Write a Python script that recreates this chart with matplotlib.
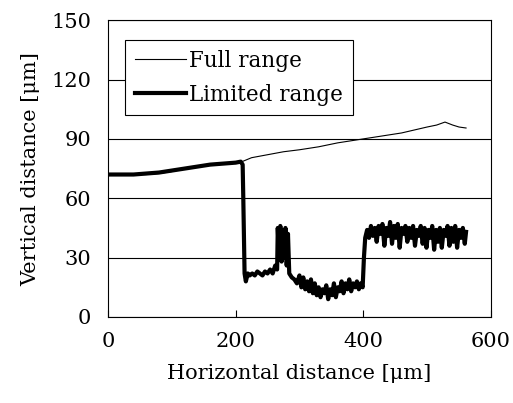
import matplotlib.pyplot as plt

# full-range profile
full_x = [0, 30, 60, 80, 100, 120, 140, 160, 180, 210, 225, 250, 275, 300, 330, 360,
          380, 400, 420, 440, 460, 480, 500, 515, 528, 540, 550, 561]
full_y = [72, 72, 72, 72.5, 73.5, 75, 76, 77, 77.5, 78.5, 80.5, 82, 83.5, 84.5, 86, 88,
          89, 90, 91, 92, 93, 94.5, 96, 97, 98.5, 97, 96, 95.5]

# limited-range profile
lim_x = [0, 20, 40, 60, 80, 100, 120, 140, 160, 180, 200, 208, 211, 212, 214, 216, 219,
         222, 226, 230, 234, 238, 242, 246, 250, 254, 258, 262, 265, 266, 268, 270, 272,
         274, 276, 278, 280, 282, 284, 288, 292, 296, 300, 303, 306, 309, 312, 315, 318,
         321, 324, 327, 330, 333, 336, 339, 342, 345, 348, 351, 354, 357, 360, 363, 366,
         369, 372, 375, 378, 381, 384, 387, 390, 393, 396, 399, 401, 403, 406, 409, 412,
         415, 418, 421, 424, 427, 430, 433, 436, 439, 442, 445, 448, 451, 454, 457, 460,
         463, 466, 469, 472, 475, 478, 481, 484, 487, 490, 493, 496, 499, 502, 505, 508,
         511, 514, 517, 520, 523, 526, 529, 532, 535, 538, 541, 544, 547, 550, 553, 556,
         559, 561]
lim_y = [72, 72, 72, 72.5, 73, 74, 75, 76, 77, 77.5, 78, 78.5, 77, 60, 22, 18, 22,
         21, 22, 21, 23, 22, 21, 23, 22, 24, 22, 26, 24, 45, 30, 46, 28,
         44, 30, 45, 26, 42, 22, 20, 19, 17, 21, 15, 20, 14, 18, 13, 19,
         12, 17, 11, 15, 10, 14, 12, 16, 9, 14, 11, 17, 10, 15, 13, 18,
         12, 17, 14, 19, 13, 17, 15, 18, 14, 17, 15, 30, 40, 44, 40, 46,
         41, 45, 38, 46, 42, 47, 36, 45, 41, 48, 37, 46, 40, 47, 35, 45,
         42, 46, 38, 45, 40, 46, 36, 44, 41, 46, 37, 45, 35, 44, 40, 46,
         34, 44, 38, 45, 35, 44, 41, 46, 36, 45, 38, 46, 35, 44, 40, 45,
         37, 43]

plt.rcParams['font.family'] = ['DejaVu Serif']

fig = plt.figure(figsize=(5.13, 4.03), dpi=100)
ax = fig.add_axes([0.2105, 0.2134, 0.7465, 0.7366])

ax.set_xlim(0, 600)
ax.set_ylim(0, 150)
ax.set_xticks([0, 200, 400, 600])
ax.set_yticks([0, 30, 60, 90, 120, 150])
ax.yaxis.grid(True, color='black', linewidth=0.8)
ax.set_axisbelow(True)

ax.tick_params(axis='x', direction='in', length=5, width=0.8, pad=11, labelsize=15)
ax.tick_params(axis='y', length=0, pad=12, labelsize=15)
for s in ax.spines.values():
    s.set_linewidth(0.8)

l1, = ax.plot(full_x, full_y, color='black', linewidth=0.8)
l2, = ax.plot(lim_x, lim_y, color='black', linewidth=3.0)

ax.set_xlabel('Horizontal distance [μm]', fontsize=15, labelpad=9)
ax.set_ylabel('Vertical distance [μm]', fontsize=15, labelpad=8)

leg = ax.legend([l1, l2], ['Full range', 'Limited range'], loc='upper left',
                bbox_to_anchor=(0.044, 0.933), borderaxespad=0, fontsize=15.5,
                fancybox=False, framealpha=1, edgecolor='black', handlelength=2.4,
                handletextpad=0.15, borderpad=0.45, labelspacing=0.55)
leg.get_frame().set_linewidth(0.8)

fig.savefig('out.png', dpi=100)
